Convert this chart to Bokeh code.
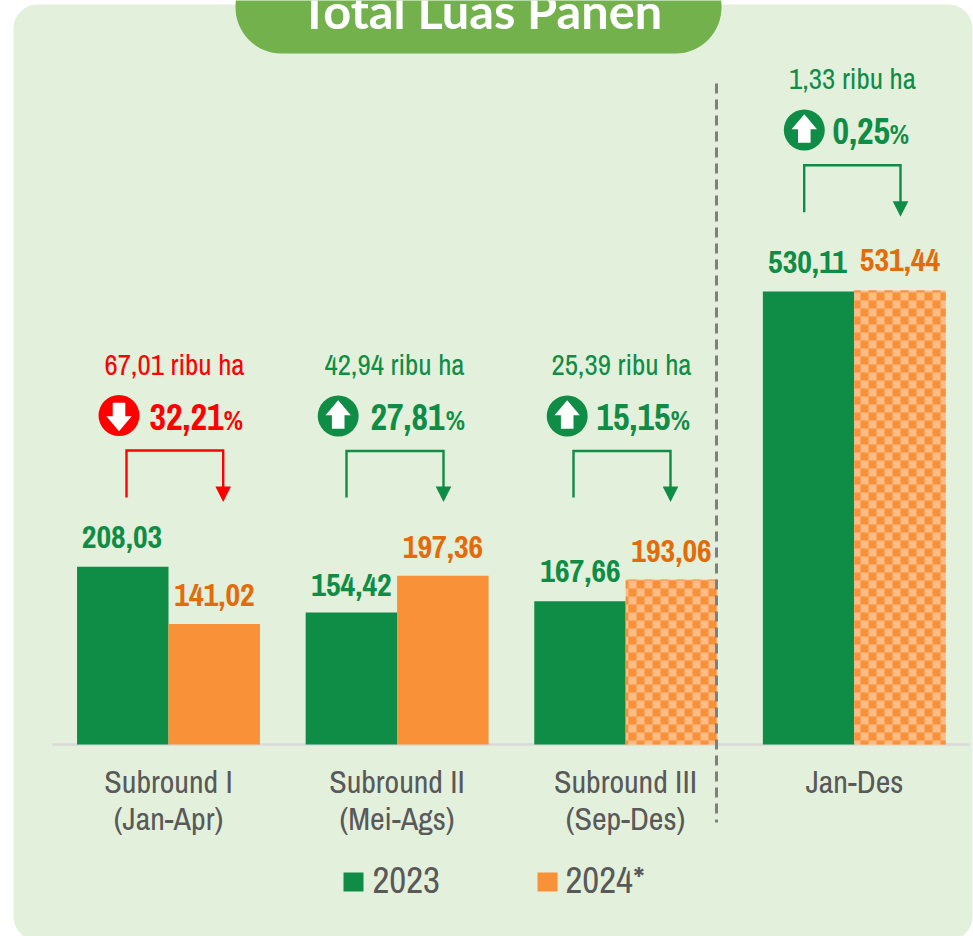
import math

from bokeh.core.properties import value
from bokeh.embed import file_html
from bokeh.models import BoxAnnotation, Range1d
from bokeh.plotting import figure
from bokeh.resources import INLINE

# ---- data ----
categories = ["Subround I\n(Jan-Apr)", "Subround II\n(Mei-Ags)", "Subround III\n(Sep-Des)", "Jan-Des"]
values_2023 = [208.03, 154.42, 167.66, 530.11]
values_2024 = [141.02, 197.36, 193.06, 531.44]
delta_abs = ["67,01 ribu ha", "42,94 ribu ha", "25,39 ribu ha", "1,33 ribu ha"]
delta_pct = ["32,21", "27,81", "15,15", "0,25"]
delta_up = [False, True, True, True]
is_forecast = [False, False, True, True]
series_names = ["2023", "2024*"]
title_text = "Total Luas Panen"

# ---- colours / fonts ----
GREEN, ORANGE, ORANGE_TXT, RED = "#0F8C45", "#F99138", "#E36C0A", "#FF0000"
LIGHT_ORANGE = "#FDBB85"
GREY, PANEL, PILL = "#595959", "#E3F0DC", "#73B14D"
NARROW = value("Archivo Narrow")

W, H = 973, 936
BASE_PX, PX_PER_UNIT = 744.0, 0.8545
C0_PX, STEP_PX = 168.0, 228.6
BAR_W = 0.4
CELL_PX, CELL_X0, CELL_Y0 = 8, 628, 708


def X(px):
    return (px - C0_PX) / STEP_PX


def Y(px):
    return (BASE_PX - px) / PX_PER_UNIT


p = figure(width=W, height=H, output_backend="svg", toolbar_location=None,
           x_range=Range1d(X(0), X(W)), y_range=Range1d(Y(H), Y(0)),
           min_border=0, min_border_left=0, min_border_right=0, min_border_top=0, min_border_bottom=0,
           x_axis_location=None, y_axis_location=None)
p.styles = {"position": "absolute", "left": "0px", "top": "0px"}
p.grid.visible = False
p.outline_line_color = None
p.background_fill_color = "#FFFFFF"
p.border_fill_color = "#FFFFFF"

p.add_layout(BoxAnnotation(left=X(13), right=X(972), top=Y(4), bottom=Y(940), fill_color=PANEL, fill_alpha=1,
                           line_color=None, border_radius=24, level="underlay"))
p.add_layout(BoxAnnotation(left=X(235), right=X(721), top=Y(-40), bottom=Y(53), fill_color=PILL, fill_alpha=1,
                           line_color=None, border_radius=46, level="underlay"))

idx = list(range(len(categories)))
# axis line
p.line([X(52), X(969)], [0, 0], line_color="#D9D9D9", line_width=2.5)

# bars
p.vbar(x=[i - BAR_W / 2 for i in idx], top=values_2023, bottom=0, width=BAR_W, fill_color=GREEN, line_color=None)
solid = [i for i in idx if not is_forecast[i]]
hatched = [i for i in idx if is_forecast[i]]
p.vbar(x=[i + BAR_W / 2 for i in solid], top=[values_2024[i] for i in solid], bottom=0, width=BAR_W,
       fill_color=ORANGE, line_color=None)
p.vbar(x=[i + BAR_W / 2 for i in hatched], top=[values_2024[i] for i in hatched], bottom=0, width=BAR_W,
       fill_color=LIGHT_ORANGE, line_color=None)

# checker cells on one page-wide lattice, clipped to each forecast bar
L, R, T, B = [], [], [], []
for i in hatched:
    lpx = C0_PX + STEP_PX * i
    rpx = C0_PX + STEP_PX * (i + BAR_W)
    tpx = BASE_PX - PX_PER_UNIT * values_2024[i]
    for col in range(math.floor((lpx - CELL_X0) / CELL_PX), math.ceil((rpx - CELL_X0) / CELL_PX)):
        for row in range(math.floor((tpx - CELL_Y0) / CELL_PX), math.ceil((BASE_PX - CELL_Y0) / CELL_PX)):
            if (col + row) % 2 == 1:
                L.append(X(max(CELL_X0 + col * CELL_PX, lpx)))
                R.append(X(min(CELL_X0 + (col + 1) * CELL_PX, rpx)))
                T.append(Y(max(CELL_Y0 + row * CELL_PX, tpx)))
                B.append(Y(min(CELL_Y0 + (row + 1) * CELL_PX, BASE_PX)))
p.quad(left=L, right=R, top=T, bottom=B, fill_color=ORANGE, line_color=None)

# separator
p.line([X(716), X(716)], [Y(83), Y(822)], line_color="#7F7F7F", line_width=3, line_dash="10 6")


def fmt(v):
    return f"{v:.2f}".replace(".", ",")


BASE_FIX = 0.36


def txt(px, py, s, color, size, align="center", bold=False, font=NARROW):
    p.text([X(px)], [Y(py - BASE_FIX * size)], text=[s], text_color=color, text_font=font,
           text_font_size=f"{size}px", text_align=align, text_baseline="alphabetic",
           text_font_style="bold" if bold else "normal")


# value labels
label_2023_px = [(121.5, 548), (351, 596), (580, 582), (807, 273)]
label_2024_px = [(214, 606), (442.5, 558), (671, 562), (899.5, 271)]
for i in idx:
    txt(*label_2023_px[i], fmt(values_2023[i]), GREEN, 32, bold=True)
    txt(*label_2024_px[i], fmt(values_2024[i]), ORANGE_TXT, 32, bold=True)

# category labels
cat_x_px = [168, 396.5, 625, 854]
for i, c in enumerate(categories):
    for j, line in enumerate(c.split("\n")):
        txt(cat_x_px[i], 792.5 + j * 37, line, GREY, 32)

# deltas
abs_px = [(174, 374), (394, 374), (621, 374), (852, 88)]
pct_px = [(149, 429), (370, 429), (596, 429), (832, 143)]
pct_sign_px = [223, 445, 670, 889]
circle_px = [(118.5, 415), (337.7, 415.5), (566.7, 415.5), (803.8, 129.5)]
bracket_px = [(126, 222.7, 450, 497), (346, 443, 450.5, 497), (573, 670, 450.5, 497), (803.7, 900, 164.7, 211.7)]

for i in idx:
    col = GREEN if delta_up[i] else RED
    txt(*abs_px[i], delta_abs[i], col, 29)
    txt(*pct_px[i], delta_pct[i], col, 36, "left", True)
    txt(pct_sign_px[i], pct_px[i][1], "%", col, 27, "left", True)

    cx, cy = circle_px[i]
    p.scatter([X(cx)], [Y(cy)], marker="circle", size=41, fill_color=col, line_color=None)
    s = -1 if delta_up[i] else 1
    shape = [(0, 15.7), (12.7, 0.7), (6.3, 0.7), (6.3, -12.7), (-6.3, -12.7), (-6.3, 0.7), (-12.7, 0.7)]
    p.patch([X(cx + a) for a, b in shape], [Y(cy + s * b) for a, b in shape], fill_color="#FFFFFF", line_color=None)

    x0, x1, top, bot = bracket_px[i]
    p.line([X(x0), X(x0), X(x1), X(x1)], [Y(bot), Y(top), Y(top), Y(bot - 5)], line_color=col, line_width=2.4,
           line_join="miter")
    p.patch([X(x1 - 7.8), X(x1 + 7.8), X(x1)], [Y(bot - 11), Y(bot - 11), Y(bot + 4.5)], fill_color=col,
            line_color=None)

# legend
legend_px = [(343, 372, GREEN), (537, 565, ORANGE)]
for name, (lx, tx, col) in zip(series_names, legend_px):
    p.quad(left=[X(lx)], right=[X(lx + 20)], top=[Y(872)], bottom=[Y(891)], fill_color=col, line_color=None)
    txt(tx, 893, name, GREY, 37, "left")

# title
txt(480.5, 27, title_text, "#FFFFFF", 48.7, bold=True, font=value("Lato"))

open("out.html", "w").write(file_html(p, INLINE))
